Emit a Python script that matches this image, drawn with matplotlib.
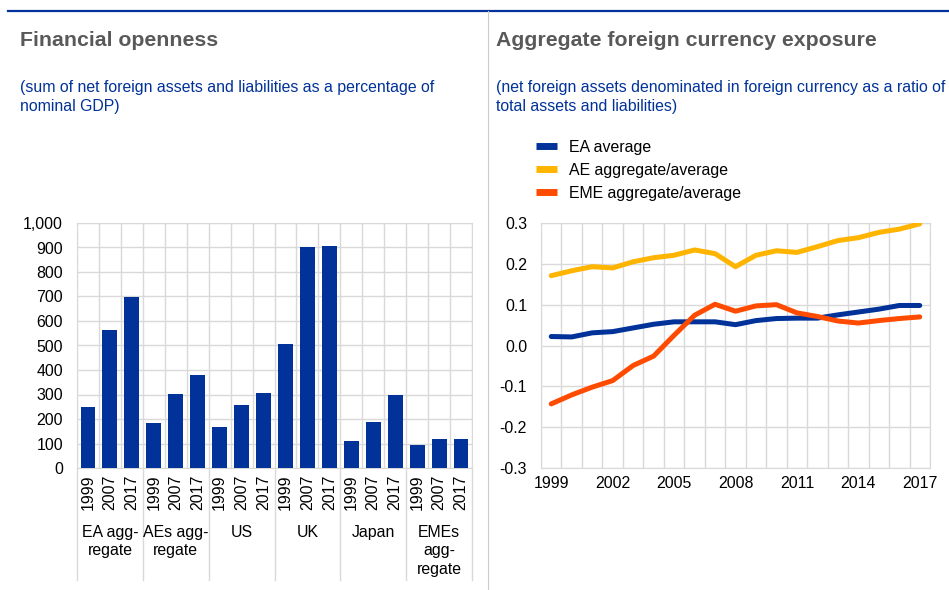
"""Two-panel chart: financial openness (bars) and aggregate foreign currency exposure (lines)."""
import matplotlib
matplotlib.use("Agg")
import matplotlib.pyplot as plt
from matplotlib.lines import Line2D
from matplotlib.ticker import FuncFormatter, FixedLocator
import numpy as np

plt.rcParams["font.family"] = ["Liberation Sans", "DejaVu Sans"]

ECB_BLUE = "#003299"
YELLOW = "#FFB400"
ORANGE = "#FF4B00"
GRID = "#d9d9d9"
TITLE_GREY = "#595959"

# --- left panel data -------------------------------------------------------
groups = ["EA agg-\nregate", "AEs agg-\nregate", "US", "UK", "Japan", "EMEs\nagg-\nregate"]
bar_years = ["1999", "2007", "2017"]
openness = [
    [250, 565, 697],   # EA aggregate
    [185, 302, 378],   # AEs aggregate
    [167, 258, 307],   # US
    [505, 903, 907],   # UK
    [112, 187, 298],   # Japan
    [92, 118, 118],    # EMEs aggregate
]

# --- right panel data ------------------------------------------------------
years = list(range(1999, 2018))
ea_average = [0.022, 0.021, 0.031, 0.034, 0.043, 0.052, 0.058, 0.058, 0.058, 0.051,
              0.061, 0.066, 0.067, 0.067, 0.075, 0.082, 0.089, 0.098, 0.098]
ae_average = [0.171, 0.183, 0.193, 0.190, 0.205, 0.215, 0.221, 0.234, 0.225, 0.193,
              0.221, 0.232, 0.228, 0.242, 0.257, 0.264, 0.277, 0.285, 0.298]
eme_average = [-0.143, -0.121, -0.102, -0.086, -0.049, -0.026, 0.025, 0.074, 0.101, 0.084,
               0.097, 0.100, 0.080, 0.071, 0.060, 0.055, 0.061, 0.066, 0.070]
series_labels = ["EA average", "AE aggregate/average", "EME aggregate/average"]

FS = 11.4
TFS = 15.3
W, H = 949, 590
fig = plt.figure(figsize=(W / 100, H / 100), dpi=100)


def fx(px):
    return px / W


def fy(py):
    return 1 - py / H


# header rule and panel divider
fig.add_artist(Line2D([fx(8), fx(949)], [fy(11), fy(11)], color=ECB_BLUE, lw=1.6))
fig.add_artist(Line2D([fx(488), fx(488)], [fy(11), fy(590)], color="#cccccc", lw=0.8))

# titles
fig.text(fx(20), fy(40), "Financial openness", fontsize=TFS, fontweight="bold",
         color=TITLE_GREY, va="center")
fig.text(fx(20), fy(97), "(sum of net foreign assets and liabilities as a percentage of\nnominal GDP)",
         fontsize=FS, color=ECB_BLUE, va="center", linespacing=1.3)
fig.text(fx(496), fy(40), "Aggregate foreign currency exposure", fontsize=TFS, fontweight="bold",
         color=TITLE_GREY, va="center")
fig.text(fx(496), fy(97), "(net foreign assets denominated in foreign currency as a ratio of\ntotal assets and liabilities)",
         fontsize=FS, color=ECB_BLUE, va="center", linespacing=1.3)

# --- left panel ------------------------------------------------------------
ax1 = fig.add_axes([fx(77), fy(468), fx(472) - fx(77), fy(223) - fy(468)])
values = np.array(openness).ravel()
pos = np.arange(len(values))
ax1.bar(pos, values, width=0.68, color=ECB_BLUE, zorder=3)
ax1.set_xlim(-0.5, len(values) - 0.5)
ax1.set_ylim(0, 1000)
ax1.set_yticks(np.arange(0, 1001, 100))
ax1.yaxis.set_major_formatter(FuncFormatter(lambda v, _: f"{int(v):,}"))
ax1.set_xticks(pos)
ax1.set_xticklabels(bar_years * len(groups), rotation=90)
ax1.xaxis.set_minor_locator(FixedLocator(np.arange(-0.5, len(values), 1)))
ax1.grid(True, which="minor", axis="x", color=GRID, lw=1, zorder=0)
ax1.grid(True, which="major", axis="y", color=GRID, lw=1, zorder=0)
ax1.tick_params(which="both", length=0, labelsize=FS)
ax1.tick_params(axis="x", pad=5)
ax1.tick_params(axis="y", pad=10)
for s in ax1.spines.values():
    s.set_color(GRID)
for i, g in enumerate(groups):
    ax1.text(i * 3 + 1, -0.232, g, transform=ax1.get_xaxis_transform(), ha="center",
             va="top", fontsize=FS, linespacing=1.3)
for b in np.arange(-0.5, len(values), 3):
    ax1.plot([b, b], [0, -0.457], transform=ax1.get_xaxis_transform(), color=GRID,
             lw=1, clip_on=False)

# --- right panel -----------------------------------------------------------
ax2 = fig.add_axes([fx(541), fy(468), fx(930) - fx(541), fy(223) - fy(468)])
idx = np.arange(len(years))
colors = [ECB_BLUE, YELLOW, ORANGE]
handles = []
for data, c, lab in zip([ea_average, ae_average, eme_average], colors, series_labels):
    ax2.plot(idx, data, color=c, lw=3.6, solid_capstyle="round", label=lab, zorder=3)
    handles.append(Line2D([], [], color=c, lw=5, solid_capstyle="butt"))
ax2.set_xlim(-0.5, len(years) - 0.5)
ax2.set_ylim(-0.3, 0.3)
ax2.set_yticks(np.arange(-0.3, 0.31, 0.1))
ax2.yaxis.set_major_formatter(FuncFormatter(lambda v, _: f"{v:.1f}"))
ax2.set_xticks(idx[::3])
ax2.set_xticklabels([str(y) for y in years[::3]])
ax2.xaxis.set_minor_locator(FixedLocator(np.arange(-0.5, len(years), 1)))
ax2.grid(True, which="minor", axis="x", color=GRID, lw=1, zorder=0)
ax2.grid(True, which="major", axis="y", color=GRID, lw=1, zorder=0)
ax2.tick_params(which="both", length=0, labelsize=FS)
ax2.tick_params(axis="y", pad=10)
ax2.tick_params(axis="x", pad=6)
for s in ax2.spines.values():
    s.set_color(GRID)
fig.legend(handles, series_labels, loc="upper left", bbox_to_anchor=(fx(536), fy(140)),
           frameon=False, fontsize=FS, handlelength=1.3, handletextpad=0.8,
           labelspacing=0.5, borderpad=0, borderaxespad=0)

fig.savefig("out.png", dpi=100)
